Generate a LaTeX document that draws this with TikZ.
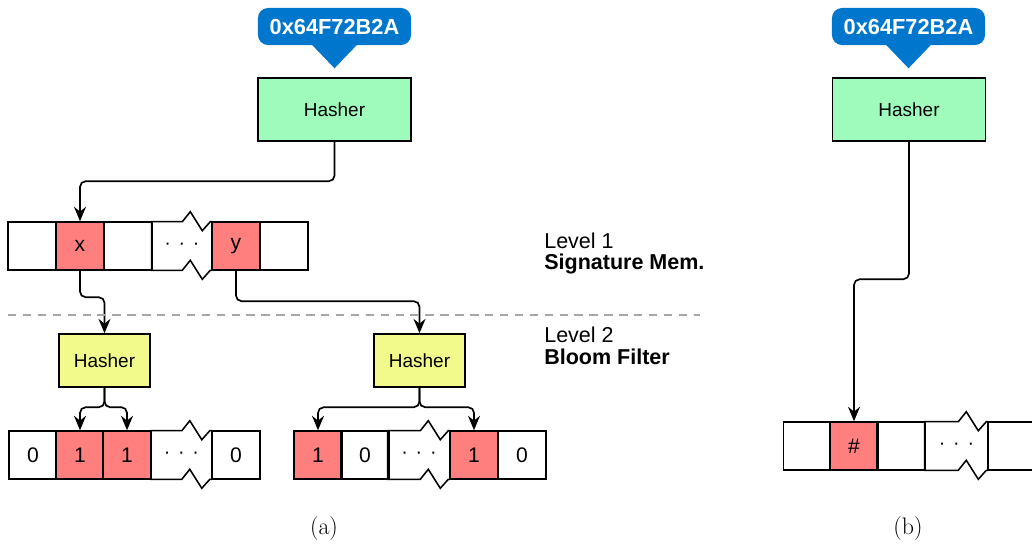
\documentclass[tikz,border=0pt]{standalone}
\usepackage{fontspec}
\newfontfamily\hv{Liberation Sans}
\usetikzlibrary{arrows.meta,calc}

\definecolor{addrblue}{HTML}{0077CC}
\definecolor{hashgreen}{HTML}{9EFBBC}
\definecolor{hashyellow}{HTML}{F2FA8C}
\definecolor{setred}{HTML}{FF7F7F}

\newcommand{\ellip}{·\hspace{5.5pt}·\hspace{5.5pt}·}
% cell with a torn right part (top, left and bottom edges only)
\newcommand{\torn}[1]{%
	\draw[line width=1.1pt]
		(#1.north east) -- ($(#1.north east)+(-2,0)$) -- ($(#1.north east)+(-10,9)$)
		-- ($(#1.north east)+(-22,-10)$) -- ($(#1.north east)+(-30,0)$) -- (#1.north west)
		-- (#1.south west) -- ($(#1.south east)+(-30,0)$) -- ($(#1.south east)+(-22,-10)$)
		-- ($(#1.south east)+(-10,9)$) -- ($(#1.south east)+(-2,0)$) -- (#1.south east);}

\tikzset{
	cell/.style={draw, line width=1.1pt, minimum width=1.2cm, minimum height=1.2cm, inner sep=0pt,
		font=\hv\fontsize{15}{17}\selectfont},
	hit/.style={cell, fill=setred},
	gap/.style={minimum width=1.5cm, minimum height=1.2cm, inner sep=0pt,
		font=\hv\fontsize{14}{16}\selectfont},
	hasher/.style={draw, line width=1.1pt, fill=hashgreen, minimum width=3.825cm, minimum height=1.575cm,
		font=\hv\fontsize{13.5}{15}\selectfont},
	filter/.style={draw, line width=1.1pt, fill=hashyellow, minimum width=2.275cm, minimum height=1.325cm,
		font=\hv\fontsize{13.5}{15}\selectfont},
	addr/.style={fill=addrblue, text=white, rounded corners=0.25cm, minimum width=3.825cm,
		minimum height=0.925cm, font=\hv\bfseries\fontsize{15.5}{17}\selectfont},
	lvl/.style={anchor=base west, inner sep=0pt, font=\hv\fontsize{15.3}{17}\selectfont},
	arr/.style={-{Stealth[length=3.6mm, width=3mm, inset=1.2mm]}, line width=1.2pt, rounded corners=4pt},
}

\begin{document}
\begin{tikzpicture}[x=0.025cm, y=-0.025cm]
	\clip (0,0) rectangle (1032,547);
	%% (a)
	\node[addr] (A0) at (334.5,26.5) {0x64F72B2A};
	\fill[addrblue] ($(A0.south)+(-23,-1)$) -- ($(A0.south)+(0,23)$) -- ($(A0.south)+(23,-1)$) -- cycle;
	\node[hasher] (H1) at (334.5,109.5) {Hasher};
%
	\node[cell] (S1) at (32,246) {};
	\node[hit] (S2) at (80,246) {x};
	\node[cell] (S3) at (128,246) {};
	\node[gap] (S4) at (182,246) {\ellip};
	\node[hit] (S5) at (236,246) {y};
	\node[cell] (S6) at (284,246) {};
	\torn{S4}
%
	\node[filter] (F1) at (104.5,360.5) {Hasher};
	\node[filter] (F2) at (419.5,360.5) {Hasher};
%
	\node[cell] (B1) at (33,455) {0};
	\node[hit] (B2) at (80,455) {1};
	\node[hit] (B3) at (127,455) {1};
	\node[gap] (B4) at (181.5,455) {\ellip};
	\node[cell] (B5) at (236,455) {0};
	\torn{B4}
%
	\node[hit] (R1) at (318,455) {1};
	\node[cell] (R2) at (365,455) {0};
	\node[gap, minimum width=1.55cm] (R3) at (419,455) {\ellip};
	\node[hit] (R4) at (474,455) {1};
	\node[cell] (R5) at (522,455) {0};
	\torn{R3}
%
	\draw[arr] (H1.south) |- ($(S2.north)+(0,-40)$) -- (S2.north);
	\draw[arr] (S2.south) |- ($(F1.north)+(0,-36)$) -- (F1.north);
	\draw[arr] (S5.south) |- ($(F2.north)+(0,-32)$) -- (F2.north);
	\draw[arr] (F1.south) |- ($(B2.north)+(0,-23)$) -- (B2.north);
	\draw[arr] (F1.south) |- ($(B3.north)+(0,-23)$) -- (B3.north);
	\draw[arr] (F2.south) |- ($(R1.north)+(0,-23)$) -- (R1.north);
	\draw[arr] (F2.south) |- ($(R4.north)+(0,-23)$) -- (R4.north);
%
	\coordinate (d0) at (8,315);
	\coordinate (d1) at (700,315);
	\draw[gray!70, line width=0.9pt, dash pattern=on 6pt off 4.6pt] (d0) -- (d1);
	\node[lvl] (L1) at (544,248) {Level 1};
	\node[lvl] (L1b) at (544,269) {\textbf{Signature Mem.}};
	\node[lvl] (L2) at (544,342) {Level 2};
	\node[lvl] (L2b) at (544,364) {\textbf{Bloom Filter}};
	\node[font=\fontsize{17}{19}\selectfont] (ca) at (324,529) {(a)};
	%% (b)
	\node[addr] (A1) at (908.5,26.5) {0x64F72B2A};
	\fill[addrblue] ($(A1.south)+(-23,-1)$) -- ($(A1.south)+(0,23)$) -- ($(A1.south)+(23,-1)$) -- cycle;
	\node[hasher] (H2) at (909,109.5) {Hasher};
%
	\node[cell] (P1) at (807.5,446) {};
	\node[hit] (P2) at (854,446) {\#};
	\node[cell] (P3) at (901,446) {};
	\node[gap, minimum width=1.575cm] (P4) at (956.5,446) {\ellip};
	\node[cell] (P5) at (1012,446) {};
	\torn{P4}
	\draw[arr] (H2.south) |- ($(P2.north)+(0,-142)$) -- (P2.north);
	\node[font=\fontsize{17}{19}\selectfont] (cb) at (908,529) {(b)};
\end{tikzpicture}
\end{document}
